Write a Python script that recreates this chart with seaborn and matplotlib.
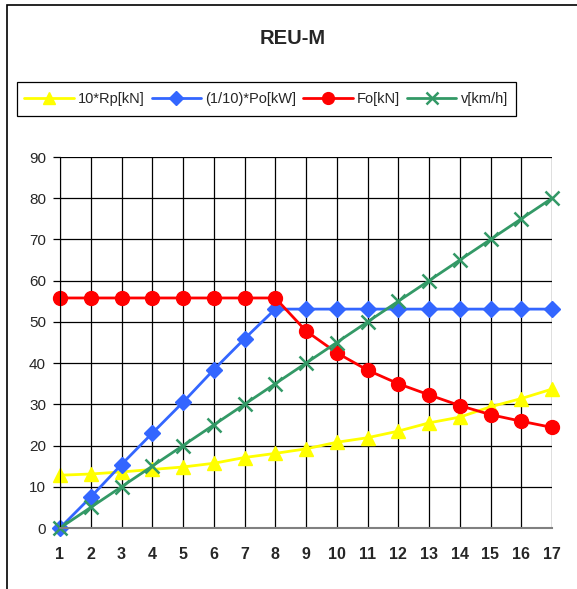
import numpy as np
import pandas as pd
import matplotlib
matplotlib.use('Agg')
import matplotlib.pyplot as plt
import seaborn as sns
from matplotlib.patches import Rectangle

x_vals = list(range(1, 18))
rp = [12.8, 13.1, 13.6, 14.2, 14.8, 15.7, 17.1, 18.1, 19.2, 20.8, 21.9, 23.5, 25.5, 26.9, 29.4, 31.4, 33.7]
po = [0, 7.5, 15.4, 23.0, 30.5, 38.4, 45.9, 53.1, 53.1, 53.1, 53.1, 53.1, 53.1, 53.1, 53.1, 53.1, 53.1]
fo = [55.8, 55.8, 55.8, 55.8, 55.8, 55.8, 55.8, 55.8, 47.8, 42.5, 38.3, 35.0, 32.3, 29.7, 27.5, 25.9, 24.4]
v = [0, 5, 10, 15, 20, 25, 30, 35, 40, 45, 50, 55, 60, 65, 70, 75, 80]
labels = ['10*Rp[kN]', '(1/10)*Po[kW]', 'Fo[kN]', 'v[km/h]']

sns.set_style('white')
plt.rcParams['font.family'] = ['Liberation Sans', 'DejaVu Sans']

fig = plt.figure(figsize=(5.77, 5.89), dpi=100)
ax = fig.add_axes([60/577, 1 - 528/589, 492/577, 371/589])

series = [
    (rp, labels[0], '#FFFF00', '^', 10.5, 1),
    (po, labels[1], '#3366FF', 'D', 8, 1),
    (fo, labels[2], '#FF0000', 'o', 10, 1),
    (v, labels[3], '#339966', 'x', 10, 1.8),
]
for vals, lab, col, mk, ms, mew in series:
    sns.lineplot(x=x_vals, y=vals, ax=ax, color=col, marker=mk, markersize=ms,
                 markeredgecolor=col, markeredgewidth=mew,
                 linewidth=2, label=lab, clip_on=False)

ax.set_xlim(1, 17)
ax.set_ylim(0, 90)
ax.set_xticks(x_vals)
ax.set_yticks(range(0, 91, 10))
ax.grid(True, color='black', linewidth=0.9)
ax.set_axisbelow(True)
for s in ['top', 'right']:
    ax.spines[s].set_visible(False)
ax.spines['left'].set_color('black')
ax.spines['bottom'].set_color('#808080')
ax.spines['bottom'].set_linewidth(1.5)
ax.tick_params(axis='y', length=5, width=0.9, color='black', labelsize=11, pad=5, direction='out', left=True)
ax.tick_params(axis='x', length=0, labelsize=11.5, pad=14)
for t in ax.get_xticklabels():
    t.set_fontweight('bold')

fig.text(293/577, 1 - 38/589, 'REU-M', ha='center', va='center', fontsize=14.5, fontweight='bold')

leg = ax.legend(loc='center left', bbox_to_anchor=(17/577, 1 - 99/589), bbox_transform=fig.transFigure,
                ncol=4, frameon=False, fontsize=10.5, handlelength=3.4,
                columnspacing=0.45, handletextpad=0.3, borderpad=0.5, borderaxespad=0,
                markerscale=0.85)

fig.patches.append(Rectangle((17/577, 1 - 116/589), 499/577, 34/589, transform=fig.transFigure,
                             fill=False, edgecolor='black', linewidth=0.9))
fig.patches.append(Rectangle((7/577, -0.05), 1.0, 1 - 5/589 + 0.05, transform=fig.transFigure,
                             fill=False, edgecolor='black', linewidth=1.2))

fig.savefig('out.png', dpi=100)
